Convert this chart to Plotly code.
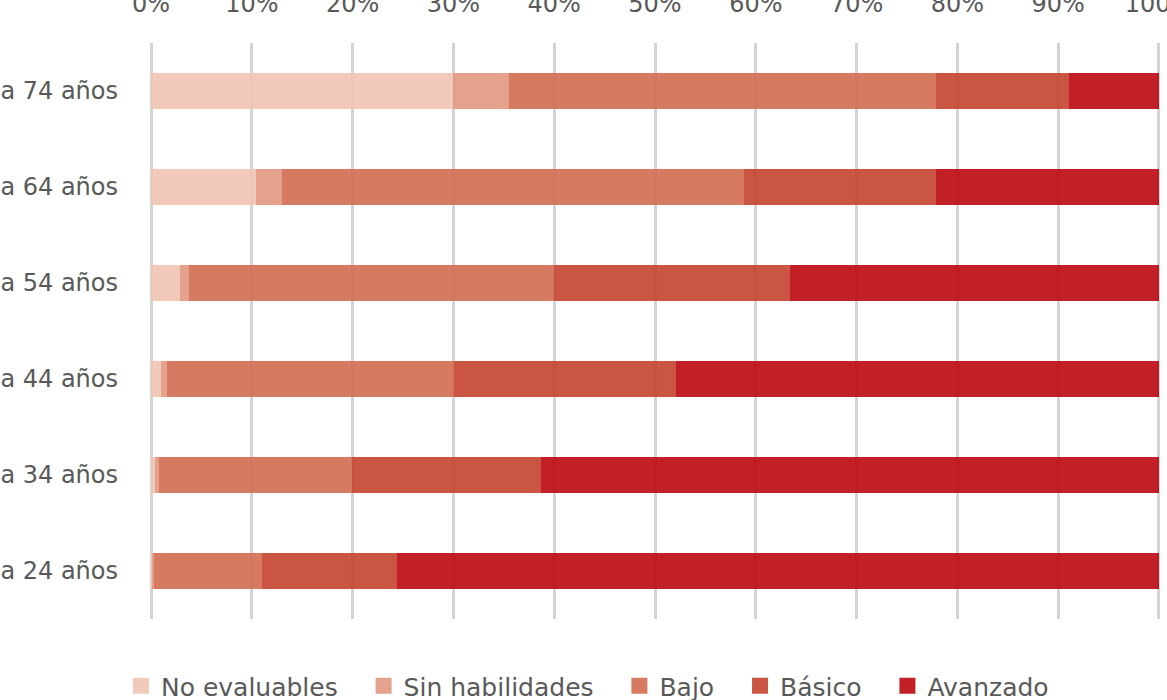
import plotly.graph_objects as go

categorias = ["16 a 24 años", "25 a 34 años", "35 a 44 años",
              "45 a 54 años", "55 a 64 años", "65 a 74 años"]

no_evaluables = [0.1, 0.4, 1.0, 2.9, 10.4, 30.0]
sin_habilidades = [0.2, 0.4, 0.6, 0.9, 2.6, 5.5]
bajo = [10.7, 19.1, 28.5, 36.2, 45.8, 42.4]
basico = [13.4, 18.8, 22.0, 23.4, 19.1, 13.2]
avanzado = [75.6, 61.3, 47.9, 36.6, 22.1, 8.9]

series = [
    ("No evaluables", no_evaluables, "#EFC4B5"),
    ("Sin habilidades", sin_habilidades, "#E1987F"),
    ("Bajo", bajo, "#D26B51"),
    ("Básico", basico, "#C4432E"),
    ("Avanzado", avanzado, "#BA0810"),
]

tick_vals = [0, 10, 20, 30, 40, 50, 60, 70, 80, 90, 100]
tick_text = [f"{v}%" for v in tick_vals]

FONT = "DejaVu Sans"
GRAY = "#595959"
FS = 24
GAP = "\u00a0\u00a0\u2009"  # extra spacing between legend entries

fig = go.Figure()
for name, vals, color in series:
    fig.add_trace(go.Bar(
        y=categorias, x=vals, name=name, orientation="h",
        marker=dict(color=color, line=dict(width=0), opacity=0.9),
        showlegend=False, hoverinfo="x+y+name",
    ))
# legend entries with larger square swatches
for i, (name, vals, color) in enumerate(series):
    label = name + (GAP if i < len(series) - 1 else "")
    fig.add_trace(go.Scatter(
        x=[None], y=[None], mode="markers", name=label,
        marker=dict(symbol="square", size=16, color=color, opacity=0.9,
                    line=dict(width=0)),
        showlegend=True,
    ))

H = 709  # a little taller than the window, the bottom edge is cropped
fig.update_layout(
    width=1167, height=H,
    barmode="stack", bargap=0.615,
    paper_bgcolor="white", plot_bgcolor="white",
    margin=dict(l=150, r=7, t=43, b=H - 619, autoexpand=False),
    font=dict(family=FONT, size=FS, color=GRAY),
    legend=dict(orientation="h", x=(122 - 151) / 1008, xanchor="left",
                y=-(H - 619) / 576, yanchor="bottom", traceorder="normal",
                font=dict(family=FONT, size=FS + 1, color=GRAY),
                itemsizing="trace", bgcolor="rgba(0,0,0,0)"),
    xaxis=dict(side="top", range=[-0.1, 100.1], tickvals=tick_vals,
               ticktext=tick_text, showgrid=True, gridcolor="#D4D4D4",
               gridwidth=2.5, zeroline=False, showline=False,
               ticks="", ticklabelstandoff=25, automargin=False,
               ticklabeloverflow="allow",
               tickfont=dict(family=FONT, size=FS, color=GRAY)),
    yaxis=dict(showgrid=False, zeroline=False, showline=False,
               ticks="", ticklabelstandoff=31, automargin=False,
               ticklabeloverflow="allow",
               range=[-0.5, 5.5],
               tickfont=dict(family=FONT, size=FS, color=GRAY)),
)

fig.write_html("out.html",
               config={"displayModeBar": False},
               post_script="document.body.style.margin='0';"
                           "document.body.style.overflow='hidden';")
